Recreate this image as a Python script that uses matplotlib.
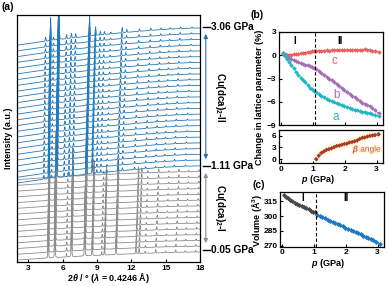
import numpy as np
import matplotlib
matplotlib.use("Agg")
import matplotlib.pyplot as plt
from matplotlib.patches import FancyArrowPatch
from matplotlib.lines import Line2D
import matplotlib.patheffects as pe

plt.rcParams['font.family'] = ['Liberation Sans', 'DejaVu Sans']
plt.rcParams['font.weight'] = 'bold'
plt.rcParams['mathtext.fontset'] = 'custom'
plt.rcParams['mathtext.rm'] = 'Liberation Sans:bold'
plt.rcParams['mathtext.it'] = 'Liberation Sans:italic:bold'
plt.rcParams['mathtext.bf'] = 'Liberation Sans:bold'

# ---------------- data ----------------
p_I = [0.05, 0.12, 0.19, 0.26, 0.33, 0.40, 0.47, 0.55, 0.62, 0.69, 0.76, 0.84, 0.91, 0.98, 1.05]
p_II = [1.11, 1.19, 1.27, 1.35, 1.43, 1.51, 1.59, 1.67, 1.75, 1.83, 1.91, 1.99, 2.07,
        2.15, 2.23, 2.31, 2.39, 2.47, 2.55, 2.63, 2.71, 2.79, 2.87, 2.95, 3.06]

a_I = [0.3, -0.1, -0.5, -0.9, -1.3, -1.7, -2.1, -2.5, -2.9, -3.2, -3.5, -3.9, -4.2, -4.4, -4.6]
a_II = [-4.75, -4.95, -5.2, -5.45, -5.6, -5.75, -5.9, -6.05, -6.2, -6.3, -6.45, -6.55, -6.65,
        -6.8, -6.9, -7.0, -7.1, -7.2, -7.3, -7.35, -7.4, -7.5, -7.6, -7.7, -7.9]
b_I = [0.2, 0.0, -0.15, -0.3, -0.45, -0.6, -0.75, -0.9, -1.0, -1.1, -1.2, -1.3, -1.4, -1.5, -1.6]
b_II = [-1.75, -2.0, -2.25, -2.5, -2.75, -3.0, -3.2, -3.45, -3.7, -3.95, -4.2, -4.45, -4.7,
        -4.95, -5.2, -5.45, -5.7, -5.9, -6.1, -6.25, -6.4, -6.6, -6.85, -7.1, -7.5]
c_I = [0.3, 0.1, 0.0, 0.0, 0.05, 0.1, 0.15, 0.2, 0.25, 0.3, 0.35, 0.4, 0.45, 0.5, 0.5]
c_II = [0.55, 0.6, 0.55, 0.6, 0.65, 0.6, 0.65, 0.7, 0.65, 0.7, 0.7, 0.65, 0.7,
        0.7, 0.65, 0.7, 0.7, 0.65, 0.7, 0.75, 0.7, 0.65, 0.6, 0.5, 0.4]
beta_II = [0.0, 0.9, 1.6, 2.0, 2.4, 2.6, 2.8, 3.1, 3.4, 3.5, 3.7, 3.9, 4.0,
           4.3, 4.4, 4.6, 4.8, 5.2, 5.5, 5.6, 5.8, 6.0, 6.1, 6.2, 6.4]

V_I = [321.0, 319.5, 318.0, 316.5, 315.0, 313.8, 312.5, 311.2, 310.0, 309.0, 308.0, 306.8, 305.5, 304.5, 303.8]
V_II = [301.2, 300.0, 298.8, 297.6, 296.5, 295.3, 294.1, 293.0, 291.8, 290.6, 289.5, 288.3, 287.1,
        285.9, 284.7, 283.6, 282.4, 281.3, 280.2, 279.0, 277.9, 276.7, 275.5, 274.0, 272.0]

# diffraction peaks (2theta, relative height) read from the bottom (0.05 GPa) and top (3.06 GPa) patterns
peaks_I_pos = [4.73, 5.31, 6.33, 6.76, 7.92, 8.58, 9.40, 9.65, 10.66, 12.40, 12.68, 13.20, 14.13, 15.00, 15.87, 16.70, 17.60]
peaks_I_h = [5.0, 8.0, 0.6, 5.0, 8.0, 2.6, 0.6, 1.5, 2.6, 1.1, 0.9, 0.35, 0.6, 0.25, 0.45, 0.25, 0.3]
peaks_II_pos = [4.50, 4.94, 5.20, 5.66, 6.33, 6.76, 7.13, 8.35, 8.87, 9.28, 9.65, 10.20, 11.20,
                11.60, 12.70, 13.70, 14.60, 15.40, 16.30, 17.30]
peaks_II_h = [0.7, 4.0, 0.5, 8.0, 0.7, 0.8, 0.7, 3.5, 1.5, 0.6, 0.5, 0.3, 0.9,
              0.5, 0.4, 0.35, 0.3, 0.25, 0.3, 0.2]

xticks_a = [3, 6, 9, 12, 15, 18]

# ---------------- figure ----------------
W, H = 388, 286
fig = plt.figure(figsize=(W / 100, H / 100), dpi=100)


def box(l, t, r, b):
    return [l / W, 1 - b / H, (r - l) / W, (b - t) / H]


def fx(x):
    return x / W


def fy(y):
    return 1 - y / H


BLUE = '#2479B8'
GRAY = '#8C8C8C'
LS = 6.5
TS = 6

# ---- panel (a)
ax = fig.add_axes(box(17, 15, 200, 262))
x = np.linspace(2, 18, 6001)


def pattern(pos, hts, scale, w):
    y = np.zeros_like(x)
    for p0, h in zip(pos, hts):
        c = p0 * scale
        d = x - c
        y += h * (0.6 * np.exp(-0.5 * (d / w) ** 2) + 0.4 * w ** 2 / (d ** 2 + w ** 2))
    return y


idx = 0
for p, V in zip(p_I, V_I):
    s = (V_I[0] / V) ** (1 / 3)
    bg = -1.4 * ((18 - x) / 16) ** 1.5
    ax.plot(x, idx + bg + pattern(peaks_I_pos, peaks_I_h, s, 0.025), color=GRAY, lw=0.6)
    idx += 1
for p, V in zip(p_II, V_II):
    s = (V_II[-1] / V) ** (1 / 3)
    bg = -3.0 * ((18 - x) / 16) ** 1.5
    ax.plot(x, idx + bg + pattern(peaks_II_pos, peaks_II_h, s, 0.03), color=BLUE, lw=0.6)
    idx += 1

ax.set_xlim(2, 18)
ax.set_ylim(-1.74, 41.26)
ax.set_yticks([])
ax.set_xticks(xticks_a)
ax.tick_params(axis='x', direction='in', length=2, width=0.8, labelsize=TS, pad=2)
for s in ax.spines.values():
    s.set_linewidth(0.9)
fig.text(fx(109), fy(278), r"2$\it{\theta}$ / ° ($\it{\lambda}$ = 0.4246 Å)", fontsize=LS,
         fontweight='bold', ha='center', va='center')
ax.set_ylabel("Intensity (a.u.)", fontsize=LS, fontweight='bold', labelpad=3)

# pressure markers and arrows
for yy, lab in [(27, "3.06 GPa"), (166, "1.11 GPa"), (250, "0.05 GPa")]:
    fig.add_artist(Line2D([fx(203), fx(210)], [fy(yy), fy(yy)], color='k', lw=1.0))
    fig.text(fx(211), fy(yy), lab, fontsize=7.3, fontweight='bold', ha='left', va='center')
fig.add_artist(FancyArrowPatch((fx(205.8), fy(31)), (fx(205.8), fy(162)), transform=fig.transFigure,
                               arrowstyle='<|-|>,head_length=2.5,head_width=1.2', color='#2F6DB0', lw=0.8))
fig.add_artist(FancyArrowPatch((fx(205.8), fy(170)), (fx(205.8), fy(246)), transform=fig.transFigure,
                               arrowstyle='<|-|>,head_length=2.5,head_width=1.2', color='#8C8C8C', lw=0.8))
fig.text(fx(220), fy(97), r"Cu(dca)$_2$-II", rotation=270, fontsize=7, fontweight='bold', ha='center', va='center')
fig.text(fx(220), fy(208), r"Cu(dca)$_2$-I", rotation=270, fontsize=7, fontweight='bold', ha='center', va='center')

# ---- panel (b) top
C_COL, B_COL, A_COL = '#E8605C', '#A66DB6', '#20B6C0'
bx = fig.add_axes(box(279, 32, 383, 125))
pI = np.array(p_I)
pII = np.array(p_II)
for dI, dII, col in [(c_I, c_II, C_COL), (b_I, b_II, B_COL), (a_I, a_II, A_COL)]:
    bx.plot(np.r_[pI, pII], np.r_[dI, dII], color=col, lw=0.7, marker='D', ms=2.3, mew=0)
bx.axvline(1.08, color='k', ls=(0, (3, 2)), lw=0.8)
bx.set_xlim(-0.06, 3.2)
bx.set_ylim(-9, 3)
bx.set_yticks([-9, -6, -3, 0, 3])
bx.set_xticks([0, 1, 2, 3])
bx.set_xticklabels([])
bx.tick_params(direction='in', length=2, width=0.8, labelsize=TS, pad=2)
bx.text(0.44, 1.9, "I", fontsize=7, fontweight='bold', ha='center', va='center')
bx.text(1.84, 1.9, "II", fontsize=7, fontweight='bold', ha='center', va='center')
bx.text(1.69, -0.8, "c", color=C_COL, fontsize=8.5, fontweight='normal', ha='center', va='center')
bx.text(1.73, -5.1, "b", color=B_COL, fontsize=8.5, fontweight='normal', ha='center', va='center')
bx.text(1.73, -8.0, "a", color=A_COL, fontsize=8.5, fontweight='normal', ha='center', va='center')
for s in bx.spines.values():
    s.set_linewidth(0.9)

# ---- panel (b) bottom
BETA = '#A83C2C'
bx2 = fig.add_axes(box(279, 130, 383, 163))
bx2.plot(pII, beta_II, color=BETA, lw=0.7, marker='D', ms=2.3, mew=0,
         path_effects=[pe.withStroke(linewidth=3, foreground='#FFFAE0'), pe.Normal()])
bx2.set_xlim(-0.06, 3.2)
bx2.set_ylim(-1, 7.5)
bx2.set_yticks([0, 3, 6])
bx2.set_xticks([0, 1, 2, 3])
bx2.tick_params(direction='in', length=2, width=0.8, labelsize=TS, pad=2)
bx2.text(2.72, 2.3, r"$\it{\beta}$ angle", color='#D4504E', fontsize=6, fontweight='normal',
         ha='center', va='center',
         path_effects=[pe.withStroke(linewidth=2.5, foreground='#FFF8D6')])
for s in bx2.spines.values():
    s.set_linewidth(0.9)
fig.text(fx(318), fy(180), r"$\it{p}$ (GPa)", fontsize=LS, fontweight='bold', ha='center', va='center')
fig.text(fx(260), fy(97), "Change in lattice parameter (%)", rotation=90, fontsize=LS,
         fontweight='bold', ha='center', va='center')

# ---- panel (c)
cx = fig.add_axes(box(280, 192, 384, 247))
cx.plot(pI, V_I, color='#4A4A4A', lw=0.8, marker='D', ms=2.6, mew=0)
cx.plot(pII, V_II, color='#1F78C1', lw=0.8, marker='D', ms=2.6, mew=0)
cx.axvline(1.08, color='k', ls=(0, (3, 2)), lw=0.8)
cx.set_xlim(-0.06, 3.2)
cx.set_ylim(268.5, 324.5)
cx.set_yticks([270, 285, 300, 315])
cx.set_xticks([0, 1, 2, 3])
cx.tick_params(direction='in', length=2, width=0.8, labelsize=TS, pad=1.5)
cx.text(0.65, 318, "I", fontsize=7, fontweight='bold', ha='center', va='center')
cx.text(2.0, 318, "II", fontsize=7, fontweight='bold', ha='center', va='center')
for s in cx.spines.values():
    s.set_linewidth(0.9)
fig.text(fx(328), fy(263), r"$\it{p}$ (GPa)", fontsize=LS, fontweight='bold', ha='center', va='center')
fig.text(fx(256.5), fy(220), r"Volume (Å$^3$)", rotation=90, fontsize=LS, fontweight='bold',
         ha='center', va='center')

# panel labels
fig.text(fx(7.5), fy(7.5), "(a)", fontsize=7.5, fontweight='bold', ha='center', va='center')
fig.text(fx(257), fy(15), "(b)", fontsize=7.5, fontweight='bold', ha='center', va='center')
fig.text(fx(258.5), fy(185), "(c)", fontsize=7.5, fontweight='bold', ha='center', va='center')

fig.savefig("out.png", dpi=100)
